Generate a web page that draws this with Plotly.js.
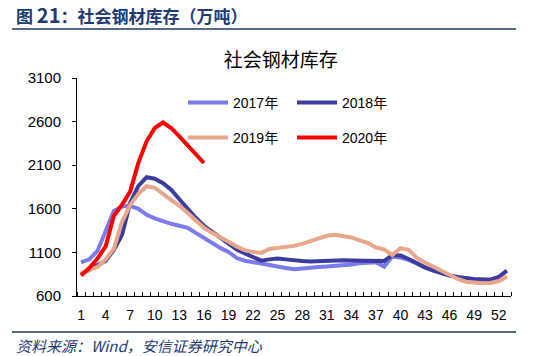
<!DOCTYPE html>
<html>
<head>
<meta charset="utf-8">
<script src="https://cdn.plot.ly/plotly-3.0.1.min.js"></script>
<style>
html,body{margin:0;padding:0;background:#fff;}
#chart{width:554px;height:356px;}
</style>
</head>
<body>
<div id="chart"></div>
<script>
const weeks = [1,2,3,4,5,6,7,8,9,10,11,12,13,14,15,16,17,18,19,20,21,22,23,24,25,26,27,28,29,30,31,32,33,34,35,36,37,38,39,40,41,42,43,44,45,46,47,48,49,50,51,52,53];
const xTickVals = [1,4,7,10,13,16,19,22,25,28,31,34,37,40,43,46,49,52];
const yTickVals = [600,1100,1600,2100,2600,3100];

const s2017 = [986,1020,1117,1347,1577,1626,1634,1600,1531,1491,1457,1428,1405,1382,1324,1267,1198,1152,1106,1035,1005,988,968,945,927,921,906,917,929,933,937,941,948,960,976,987,987,937,1052,1041,1014,974,925,890,858,832,812,800,794,789,786,812];
const s2018 = [855,899,956,1002,1129,1301,1669,1864,1962,1945,1893,1818,1709,1600,1497,1405,1336,1272,1209,1134,1089,1043,1005,1020,1030,1020,1008,1002,997,1002,1008,1010,1010,1008,1008,1010,1005,1000,1070,1065,1025,974,928,894,864,836,818,801,792,790,787,818,891];
const s2019 = [865,905,933,1020,1140,1451,1646,1772,1859,1841,1772,1709,1634,1554,1462,1382,1324,1267,1221,1169,1123,1106,1094,1140,1148,1157,1175,1198,1232,1267,1290,1301,1290,1272,1238,1209,1157,1134,1071,1148,1129,1037,985,937,894,848,795,764,755,745,749,772,822];
const s2020 = [835,920,1030,1170,1520,1646,1800,2130,2374,2527,2590,2527,2431,2324,2232,2125];

const seriesNames = ['2017年','2018年','2019年','2020年'];
const seriesColors = ['#7B7BEC','#3C3C9E','#E8A68A','#FF0000'];

const numFont = 'Liberation Sans, Arial, Noto Sans CJK SC, sans-serif';
const cjkFont = 'Noto Sans CJK SC, Liberation Sans, sans-serif';

const data = [s2017, s2018, s2019, s2020].map((vals, i) => ({
  type: 'scatter',
  mode: 'lines',
  x: weeks.slice(0, vals.length),
  y: vals,
  name: seriesNames[i],
  line: {color: seriesColors[i], width: 4},
  legend: i < 2 ? 'legend' : 'legend2',
  hoverinfo: 'skip'
}));

const legendCommon = {
  orientation: 'h',
  xref: 'paper', yref: 'paper',
  xanchor: 'left', yanchor: 'middle',
  bgcolor: 'rgba(0,0,0,0)',
  font: {family: numFont, size: 14, color: '#000'},
  itemwidth: 40,
  entrywidth: 54,
  entrywidthmode: 'pixels',
  tracegroupgap: 0
};

const layout = {
  width: 554, height: 356,
  margin: {l: 77, r: 43, t: 78, b: 60, autoexpand: false},
  paper_bgcolor: '#fff', plot_bgcolor: '#fff',
  showlegend: true,
  title: {
    text: '社会钢材库存',
    font: {family: cjkFont, size: 19, color: '#000'},
    xref: 'container', x: 0.507, xanchor: 'center',
    yref: 'container', y: 1 - 60/356, yanchor: 'middle'
  },
  legend: Object.assign({}, legendCommon, {x: 106/434, y: 193/218}),
  legend2: Object.assign({}, legendCommon, {x: 106/434, y: 158/218}),
  xaxis: {
    range: [0.5, 53.5],
    tickmode: 'array', tickvals: xTickVals,
    ticks: '', showgrid: false, zeroline: false,
    showline: true, linecolor: '#000', linewidth: 1,
    tickfont: {family: numFont, size: 14, color: '#000'},
    minor: {tickmode: 'linear', tick0: 0.5, dtick: 1, ticks: 'inside', ticklen: 4, tickcolor: '#000', tickwidth: 1, showgrid: false},
    ticklabelstandoff: 6
  },
  yaxis: {
    range: [600, 3100],
    tickmode: 'array', tickvals: yTickVals,
    ticks: 'outside', ticklen: 4, tickcolor: '#000', tickwidth: 1,
    showgrid: false, zeroline: false,
    showline: true, linecolor: '#000', linewidth: 1,
    tickfont: {family: numFont, size: 15, color: '#000'},
    ticklabelstandoff: 8
  },
  shapes: [
    {type: 'line', xref: 'paper', yref: 'paper', x0: -65/434, x1: 439/434, y0: 1 + 49/218, y1: 1 + 49/218, line: {color: '#1F3864', width: 1.5}},
    {type: 'line', xref: 'paper', yref: 'paper', x0: -65/434, x1: 439/434, y0: -36/218, y1: -36/218, line: {color: '#1F3864', width: 1.5}}
  ],
  annotations: [
    {xref: 'paper', yref: 'paper', x: -63/434, y: 1 + 64/218, xanchor: 'left', yanchor: 'middle', showarrow: false,
     text: '<b>图 <span style="font-size:20px">21</span>：社会钢材库存（万吨）</b>',
     font: {family: cjkFont, size: 17, color: '#1F3B73'}},
    {xref: 'paper', yref: 'paper', x: -63/434, y: -49/218, xanchor: 'left', yanchor: 'middle', showarrow: false,
     text: '<i>资料来源：Wind，安信证券研究中心</i>',
     font: {family: cjkFont, size: 15, color: '#1F3B73'}}
  ]
};

Plotly.newPlot('chart', data, layout, {staticPlot: true, displayModeBar: false});
</script>
</body>
</html>
